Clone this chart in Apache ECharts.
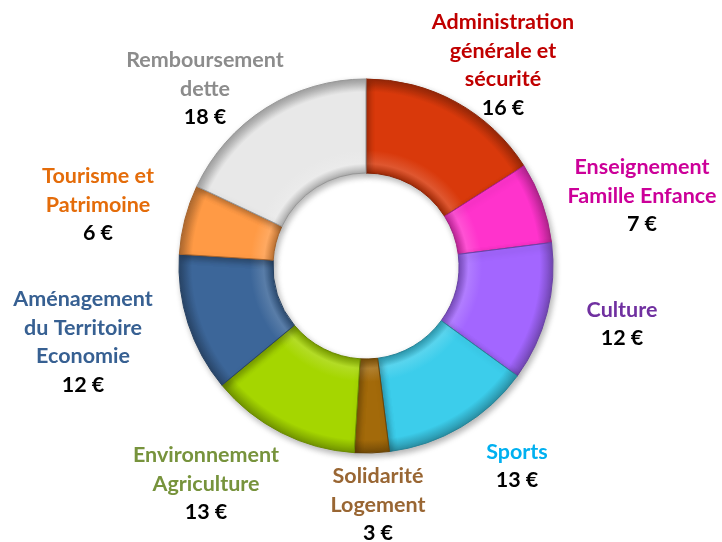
<!DOCTYPE html>
<html>
<head>
<meta charset="utf-8">
<script src="https://cdn.jsdelivr.net/npm/echarts@6/dist/echarts.min.js"></script>
<style>
html,body{margin:0;padding:0;background:#fff;}
#chart{width:722px;height:542px;}
</style>
</head>
<body>
<div id="chart"></div>
<script>
const categories = [
  'Administration\ngénérale et\nsécurité',
  'Enseignement\nFamille Enfance',
  'Culture',
  'Sports',
  'Solidarité\nLogement',
  'Environnement\nAgriculture',
  'Aménagement\ndu Territoire\nEconomie',
  'Tourisme et\nPatrimoine',
  'Remboursement\ndette'
];
const values = [16, 7, 12, 13, 3, 13, 12, 6, 18];
const currency = '€';

const sliceColors = ['#D9390B','#FF33CC','#A366FF','#3CCDEB','#A36A0A','#A5D600','#3C6699','#FF9A45','#E8E8E8'];
const labelColors = ['#C00000','#CC0099','#7030A0','#00B0F0','#996633','#77933C','#376092','#E46C0A','#8C8C8C'];
const labelPos = [[503,65],[642,196],[622,324],[517,466],[378,505],[206,484],[83,342],[98,205],[205,89]];

const CX = 366, CY = 266, R_OUT = 187, R_IN = 93;

function shade(hex, f) {
  const n = parseInt(hex.slice(1), 16);
  let r = (n >> 16) & 255, g = (n >> 8) & 255, b = n & 255;
  if (f < 0) { r = r * (1 + f); g = g * (1 + f); b = b * (1 + f); }
  else { r = r + (255 - r) * f; g = g + (255 - g) * f; b = b + (255 - b) * f; }
  return 'rgb(' + Math.round(r) + ',' + Math.round(g) + ',' + Math.round(b) + ')';
}

const FS = 21.5, LH = 28.5;
const rich = {};
labelColors.forEach((c, i) => {
  rich['n' + i] = { color: c, fontSize: FS, fontWeight: 'bold', fontFamily: 'Lato', lineHeight: LH };
});
rich.v = { color: '#000', fontSize: FS, fontWeight: 'bold', fontFamily: 'Lato', lineHeight: LH };

const data = categories.map((name, i) => ({
  name: name,
  value: values[i],
  itemStyle: {
    color: {
      type: 'radial', x: CX, y: CY, r: R_OUT, global: true,
      colorStops: [
        { offset: 0, color: sliceColors[i] },
        { offset: R_IN / R_OUT, color: shade(sliceColors[i], -0.25) },
        { offset: R_IN / R_OUT + 0.05, color: shade(sliceColors[i], 0.15) },
        { offset: 0.62, color: sliceColors[i] },
        { offset: 0.93, color: sliceColors[i] },
        { offset: 1, color: shade(sliceColors[i], -0.3) }
      ]
    },
    borderColor: shade(sliceColors[i], -0.35),
    borderWidth: 1
  }
}));

const chart = echarts.init(document.getElementById('chart'));
chart.setOption({
  animation: false,
  series: [{
    type: 'pie',
    center: [CX, CY],
    radius: [R_IN, R_OUT],
    startAngle: 90,
    clockwise: true,
    avoidLabelOverlap: false,
    itemStyle: {
      shadowBlur: 6,
      shadowColor: 'rgba(0,0,0,0.3)',
      shadowOffsetX: 2,
      shadowOffsetY: 3
    },
    label: {
      show: true,
      position: 'outside',
      align: 'center',
      formatter: function (p) {
        const lines = p.name.split('\n').map(l => '{n' + p.dataIndex + '|' + l + '}');
        lines.push('{v|' + p.value + ' ' + currency + '}');
        return lines.join('\n');
      },
      rich: rich
    },
    labelLine: { show: false },
    labelLayout: function (p) {
      const pos = labelPos[p.dataIndex];
      return { x: pos[0], y: pos[1], align: 'center', verticalAlign: 'middle' };
    },
    data: data
  }]
});
</script>
</body>
</html>
